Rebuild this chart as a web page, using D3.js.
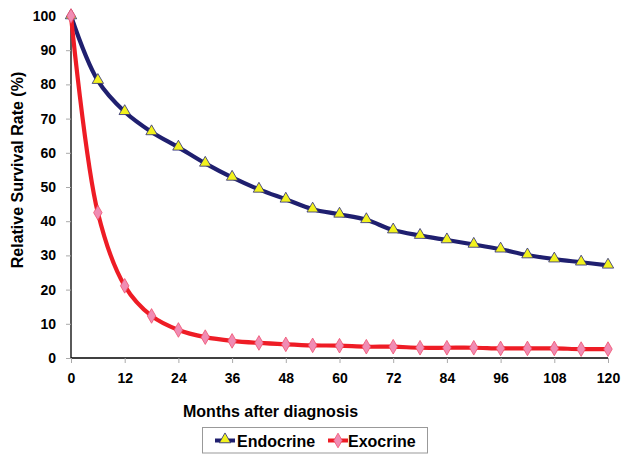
<!DOCTYPE html>
<html>
<head>
<meta charset="utf-8">
<script src="https://cdn.jsdelivr.net/npm/d3@7"></script>
<style>
  html, body { margin: 0; padding: 0; background: #fff; }
  svg { display: block; font-family: "Liberation Sans", Arial, sans-serif; }
</style>
</head>
<body>
<svg id="chart" width="622" height="454"></svg>
<script>
const months = [0, 6, 12, 18, 24, 30, 36, 42, 48, 54, 60, 66, 72, 78, 84, 90, 96, 102, 108, 114, 120];
const endocrine = [100, 81.1, 72.0, 66.1, 61.6, 56.9, 52.8, 49.3, 46.4, 43.5, 42.0, 40.4, 37.4, 35.8, 34.5, 33.2, 31.8, 30.1, 28.9, 28.0, 27.1];
const exocrine = [100, 42.5, 21.1, 12.3, 8.2, 6.1, 5.0, 4.4, 4.0, 3.7, 3.6, 3.3, 3.3, 3.0, 3.0, 3.0, 2.8, 2.8, 2.8, 2.6, 2.6];
const xTicks = [0, 12, 24, 36, 48, 60, 72, 84, 96, 108, 120];
const yTicks = [0, 10, 20, 30, 40, 50, 60, 70, 80, 90, 100];
const seriesNames = ["Endocrine", "Exocrine"];
const xTitle = "Months after diagnosis";
const yTitle = "Relative Survival Rate (%)";

const svg = d3.select("#chart");
const x = d3.scaleLinear().domain([0, 120]).range([71, 608]);
const y = d3.scaleLinear().domain([0, 100]).range([358, 16]);

// axes
const xAxis = svg.append("g").attr("transform", `translate(0,${y(0)})`)
  .call(d3.axisBottom(x).tickValues(xTicks).tickSize(5).tickPadding(10));
const yAxis = svg.append("g").attr("transform", `translate(${x(0)},0)`)
  .call(d3.axisLeft(y).tickValues(yTicks).tickSize(5).tickPadding(10));
[xAxis, yAxis].forEach(g => {
  g.select(".domain").attr("stroke", "#000").attr("stroke-width", 1.3);
  g.selectAll(".tick line").attr("stroke", "#aaa").attr("stroke-width", 1);
  g.selectAll(".tick text").attr("fill", "#000").style("font-size", "14px").style("font-weight", "bold");
});
xAxis.select(".domain").attr("d", `M${x(0)},0H${x(120)}`);
yAxis.select(".domain").attr("d", `M0,${y(100)}V${y(0)}`);

// titles
svg.append("text").attr("x", 183).attr("y", 417)
  .style("font-size", "16px").style("font-weight", "bold").text(xTitle);
svg.append("text").attr("transform", "translate(23,170) rotate(-90)")
  .attr("text-anchor", "middle")
  .style("font-size", "16px").style("font-weight", "bold").text(yTitle);

const line = d3.line().curve(d3.curveCatmullRom.alpha(0.5))
  .x(d => x(d[0])).y(d => y(d[1]));

const styles = [
  { color: "#1F1F6F", fill: "#F2F21E", stroke: "#2A2A78", shape: d3.symbolTriangle, size: 56 },
  { color: "#EE1C25", fill: "#F08CB4", stroke: "#F0506E", shape: d3.symbolDiamond, size: 62 }
];
const data = [endocrine, exocrine];

data.forEach((vals, i) => {
  const pts = months.map((m, j) => [m, vals[j]]);
  svg.append("path").attr("d", line(pts)).attr("fill", "none")
    .attr("stroke", styles[i].color).attr("stroke-width", 4.2)
    .attr("stroke-linejoin", "round");
});
data.forEach((vals, i) => {
  const sym = d3.symbol().type(styles[i].shape).size(styles[i].size);
  svg.append("g").selectAll("path").data(months.map((m, j) => [m, vals[j]])).join("path")
    .attr("d", sym)
    .attr("transform", d => `translate(${x(d[0])},${y(d[1]) + (i === 0 ? -0.5 : 0)})`)
    .attr("fill", styles[i].fill).attr("stroke", styles[i].stroke).attr("stroke-width", 0.8);
});

// legend
const lg = svg.append("g");
lg.append("rect").attr("x", 202.5).attr("y", 427.5).attr("width", 225).attr("height", 25.5)
  .attr("fill", "#fff").attr("stroke", "#999").attr("stroke-width", 1);
const legendItems = [{ x0: 215, tx: 237 }, { x0: 328, tx: 348 }];
seriesNames.forEach((name, i) => {
  const it = legendItems[i];
  lg.append("line").attr("x1", it.x0).attr("x2", it.x0 + 20).attr("y1", 440.5).attr("y2", 440.5)
    .attr("stroke", styles[i].color).attr("stroke-width", 4);
  lg.append("path").attr("d", d3.symbol().type(styles[i].shape).size(styles[i].size)())
    .attr("transform", `translate(${it.x0 + 10},${i === 0 ? 439.5 : 440.5})`)
    .attr("fill", styles[i].fill).attr("stroke", styles[i].stroke).attr("stroke-width", 0.8);
  lg.append("text").attr("x", it.tx).attr("y", 446.5)
    .style("font-size", "16px").style("font-weight", "bold").text(name);
});
</script>
</body>
</html>
